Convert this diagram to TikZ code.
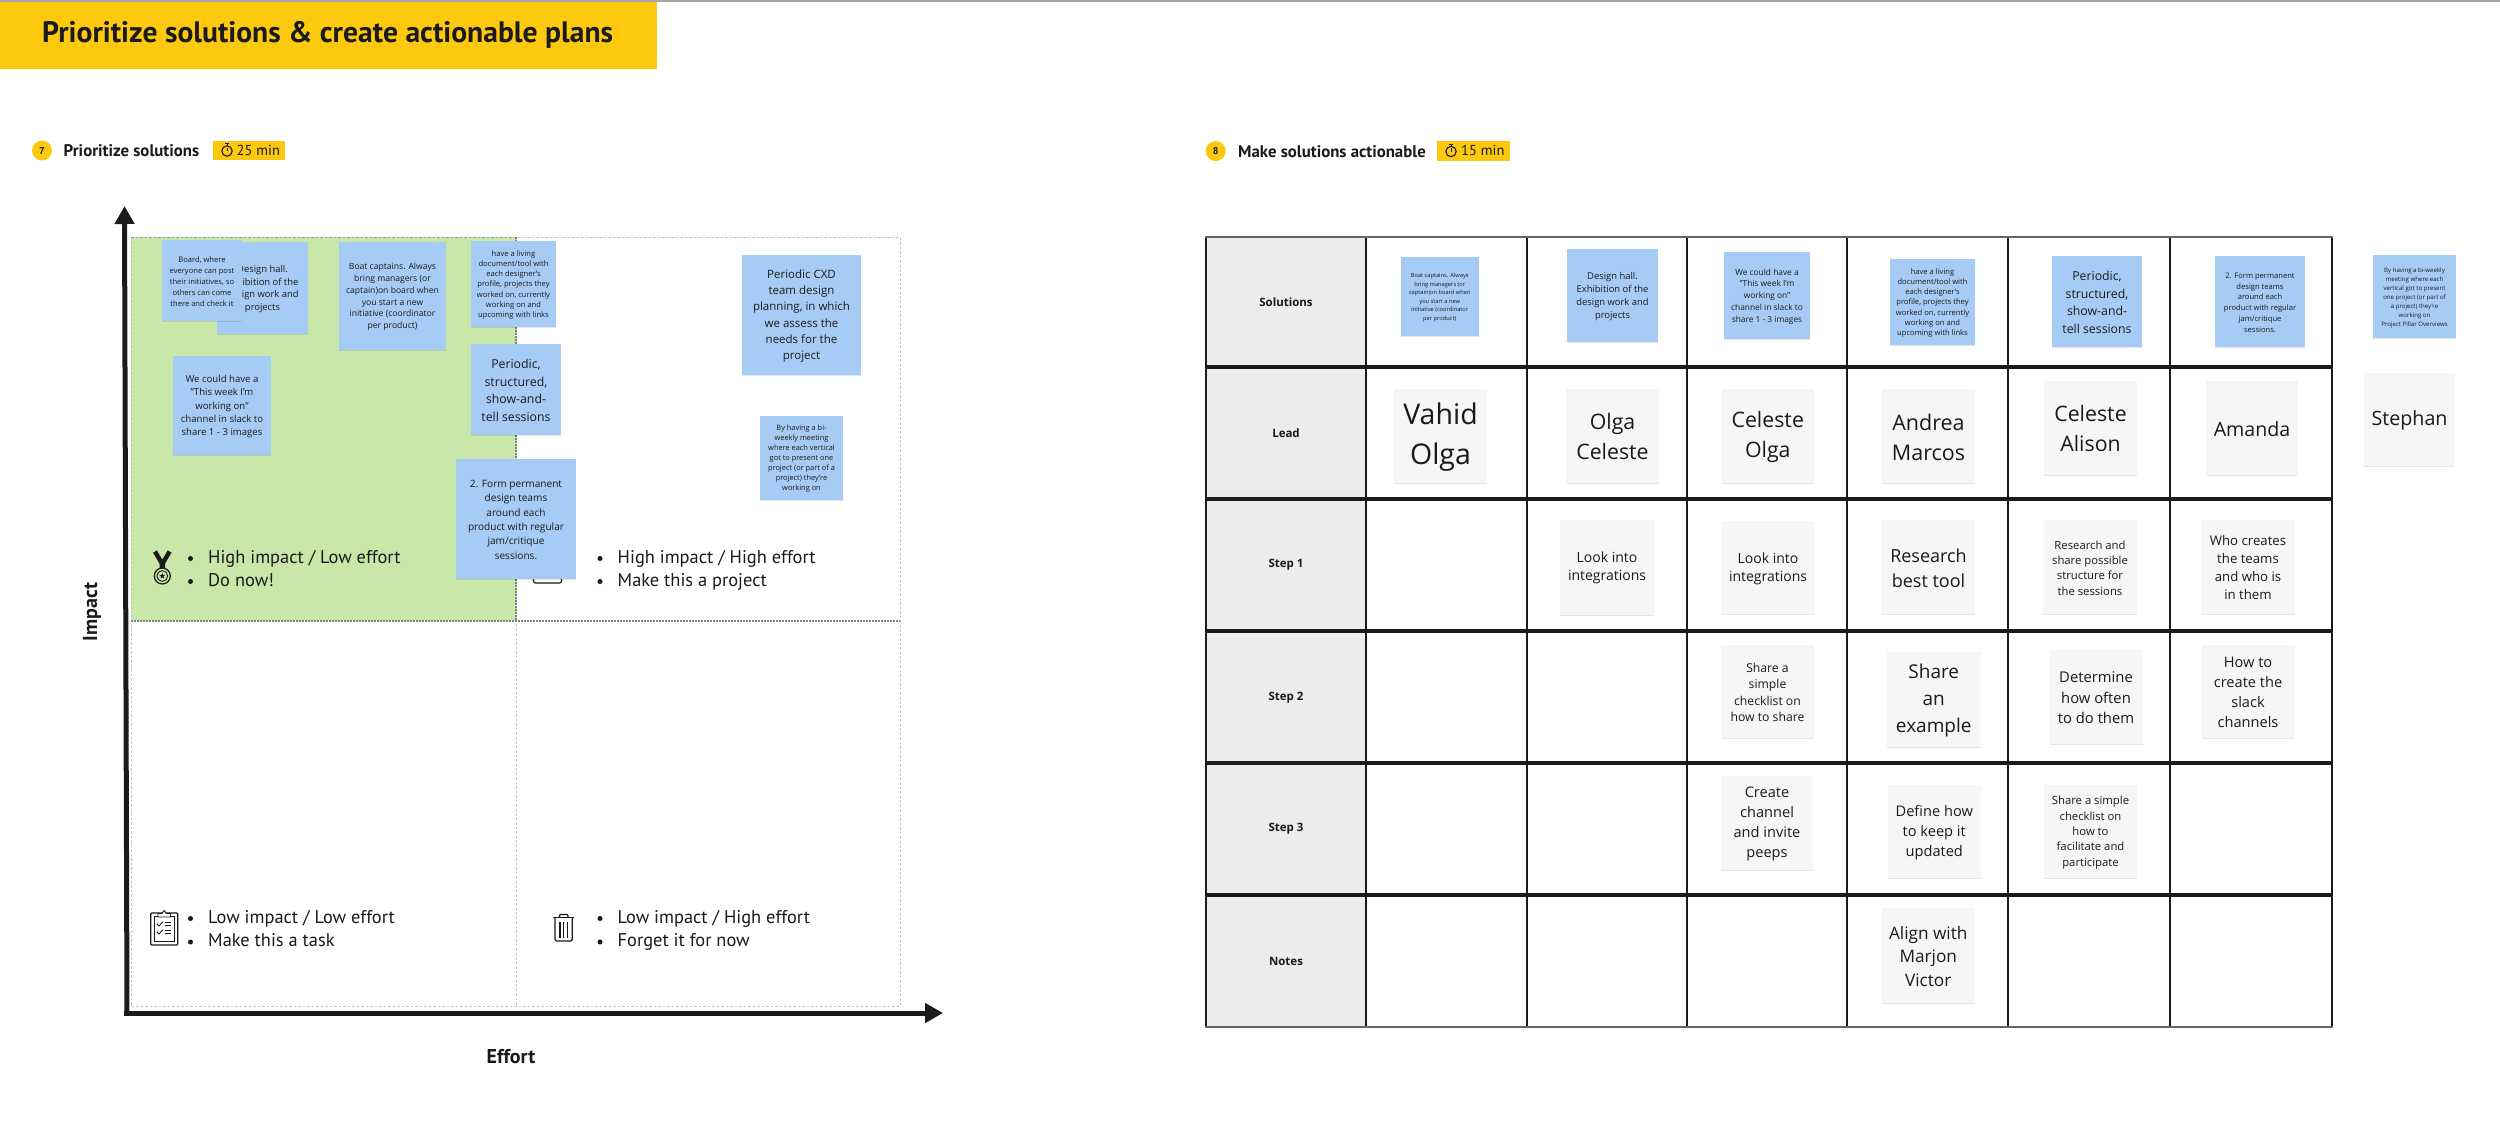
\documentclass[tikz,border=0pt]{standalone}
\usepackage{fontspec}
\setmainfont{Open Sans}
\newfontfamily\ptsans{PT Sans}
\usetikzlibrary{arrows.meta,shadows,shapes.geometric}
\definecolor{bannerY}{HTML}{FDC90F}
\definecolor{stickyB}{HTML}{A6CCF5}
\definecolor{stickyG}{HTML}{F5F6F8}
\definecolor{quadG}{HTML}{C9E7A8}
\definecolor{headG}{HTML}{ECECEC}
\definecolor{inkD}{HTML}{1A1A1A}
\newcommand{\fsz}[2]{\fontsize{#1}{#2}\selectfont}
\tikzset{
  x=1pt,y=-1pt,
  noteshadow/.style={drop shadow={shadow xshift=0pt,shadow yshift=-1.2pt,opacity=.10,fill=black}},
  bluenote/.style={fill=stickyB,noteshadow,inner sep=0pt},
  graynote/.style={fill=stickyG,noteshadow,inner sep=0pt},
  notetext/.style={text=inkD,align=center,inner sep=0pt},
  axisline/.style={draw=inkD,line width=5pt,-{Triangle[length=18pt,width=19pt]}},
  griddash/.style={draw=black!24,line width=1pt,dash pattern=on 2.5pt off 2pt},
  griddark/.style={draw=black!50,line width=1.3pt,dash pattern=on 2pt off 1pt},
  tablethin/.style={draw=inkD,line width=2pt},
  tablethick/.style={draw=inkD,line width=3.5pt},
  qtext/.style={anchor=west,inner sep=0pt,text=inkD,font=\ptsans\fsz{18.4}{22},text height=13pt,text depth=4pt},
  qdot/.style={circle,fill=inkD,inner sep=0pt,minimum size=5pt},
  heading/.style={anchor=west,inner sep=0pt,text=inkD,font=\ptsans\bfseries\fsz{16.8}{20}},
  badge/.style={fill=bannerY,inner sep=0pt},
  badgetext/.style={anchor=west,inner sep=0pt,text=inkD,font=\ptsans\fsz{14.5}{16}},
  stepnum/.style={circle,fill=bannerY,inner sep=0pt,minimum size=20pt,text=inkD,font=\ptsans\bfseries\fsz{10}{11}},
  rowlabel/.style={text=inkD,inner sep=0pt,font=\bfseries\fsz{11.5}{14}},
  axislabel/.style={text=inkD,inner sep=0pt,font=\ptsans\bfseries\fsz{20}{22}},
  iconline/.style={draw=inkD,line width=1.2pt},
}
% style, name, x1, y1, x2, y2, font size, leading, text
\newcommand{\sticky}[9]{%
  \pgfmathsetmacro\stcx{(#3+#5)/2}\pgfmathsetmacro\stcy{(#4+#6)/2}%
  \pgfmathsetmacro\stw{#5-#3}\pgfmathsetmacro\sth{#6-#4}\pgfmathsetmacro\sty{\stcy+1}%
  \node[#1,minimum width=\stw pt,minimum height=\sth pt] (#2) at (\stcx,\stcy) {};
  \node[notetext,font=\fsz{#7}{#8}] (#2t) at (\stcx,\sty) {#9};}
\newcommand{\qline}[4]{\node[qdot] (#1d) at (#2-17.5,#3) {};\node[qtext] (#1) at (#2,#3) {#4};}
\newcommand{\stopwatch}[2]{%
  \draw[draw=inkD,line width=1.1pt] (#1,#2) circle[radius=5.2pt];
  \draw[draw=inkD,line width=1.2pt] (#1-2,#2-7.4) -- (#1+2,#2-7.4);
  \draw[draw=inkD,line width=1pt] (#1,#2-7) -- (#1,#2-5) (#1,#2) -- (#1,#2-3.5);}
\begin{document}
\begin{tikzpicture}
\useasboundingbox (0,0) rectangle (2500,1133);
\fill[white] (0,0) rectangle (2500,1133);
\fill[black!35] (0,0) rectangle (2500,1.5);
% banner
\node[fill=bannerY,minimum width=657pt,minimum height=67pt,inner sep=0pt] (banner) at (328.5,35) {};
\node[anchor=west,inner sep=0pt,text=inkD,font=\ptsans\bfseries\fsz{29.6}{34}] (title) at (42,35) {Prioritize solutions \& create actionable plans};
% section headings
\node[stepnum] (n7) at (42,150.5) {7};
\node[heading] (h7) at (63.5,151) {Prioritize solutions};
\node[badge,minimum width=72.5pt,minimum height=19.5pt] (b7) at (249,150.7) {};
\stopwatch{227}{151}
\node[badgetext] (b7t) at (236.5,150.5) {25 min};
\node[stepnum] (n8) at (1215.7,151) {8};
\node[heading] (h8) at (1238,152) {Make solutions actionable};
\node[badge,minimum width=73pt,minimum height=19.7pt] (b8) at (1473,150.8) {};
\stopwatch{1451}{151.5}
\node[badgetext] (b8t) at (1461,150.5) {15 min};
% matrix
\fill[quadG] (131,237) rectangle (516,621);
\draw[griddash] (131,237) rectangle (900,1006);
\draw[griddash] (516,237) -- (516,1006);
\draw[griddark] (131,621) -- (900,621);
\draw[griddash,draw=black!40] (131,237) -- (516,237);
\draw[griddark] (516,237) -- (516,621);
\coordinate (origin) at (127,1013);
\coordinate (ytip) at (124.5,206);
\coordinate (xstart) at (124,1013);
\coordinate (xtip) at (943,1013);
\draw[axisline] (origin) -- (ytip);
\draw[axisline] (xstart) -- (xtip);
\node[axislabel,rotate=90] (impact) at (92,612) {Impact};
\node[axislabel] (effort) at (511,1057) {Effort};
% quadrant text
\qline{qa}{208}{558.5}{High impact / Low effort}
\qline{qb}{208}{581.5}{Do now!}
\qline{qc}{617.5}{558.5}{High impact / High effort}
\qline{qd}{617.5}{581.5}{Make this a project}
\qline{qe}{208}{918.5}{Low impact / Low effort}
\qline{qf}{208}{942}{Make this a task}
\qline{qg}{617.5}{918.5}{Low impact / High effort}
\qline{qh}{617.5}{942}{Forget it for now}
% medal
\draw[draw=inkD,line width=4.4pt] (155,551.5) -- (162.3,564) -- (169.6,551.5);
\fill[inkD] (159.5,562) -- (165.1,562) -- (165,568.5) -- (159.6,568.5) -- cycle;
\draw[iconline] (162.3,576) circle[radius=8pt];
\draw[iconline,line width=.9pt] (162.3,576) circle[radius=5.4pt];
\node[star,star points=5,star point ratio=2.3,fill=inkD,inner sep=0pt,minimum size=6pt] (medalstar) at (162.3,576) {};
% clipboard
\draw[iconline,rounded corners=1pt] (150.7,913) rectangle (177.7,945);
\draw[iconline,line width=.9pt] (154.7,916) rectangle (174.3,941.5);
\draw[iconline,fill=white,line width=.9pt] (158,917) -- (158,913.5) -- (162,913.5) -- (164.2,910.5) -- (166.4,913.5) -- (170.5,913.5) -- (170.5,917) -- cycle;
\draw[iconline,line width=.9pt] (157,924) -- (159,926) -- (162.8,921.8) (157,932) -- (159,934) -- (162.8,929.8);
\draw[iconline,line width=.9pt] (164.7,922.7) -- (171,922.7) (164.7,925.6) -- (171,925.6) (164.7,930.7) -- (171,930.7) (164.7,933.6) -- (171,933.6);
% trash
\draw[iconline,rounded corners=1.5pt] (555,918) -- (555,941) -- (572.3,941) -- (572.3,918);
\draw[iconline,line width=1.5pt] (552.5,917.5) -- (574.3,917.5);
\draw[iconline,rounded corners=1pt] (559.5,917) -- (559.5,914.5) -- (568,914.5) -- (568,917);
\draw[iconline,line width=1.1pt] (560,922) -- (560,938) (563.8,922) -- (563.8,938) (567.6,922) -- (567.6,938);
% partly hidden project icon
\draw[iconline,rounded corners=2pt] (533.5,560) rectangle (561.5,583);
% matrix stickies
\sticky{bluenote}{m2}{217}{242}{308}{334}{9.4}{12.8}{Design hall.\\Exhibition of the\\design work and\\projects}
\sticky{bluenote}{m1}{162}{240}{242}{321}{7.6}{10.9}{Board, where\\everyone can post\\their initiatives, so\\others can come\\there and check it}
\sticky{bluenote}{m3}{339}{242}{446}{350}{8.6}{11.8}{Boat captains. Always\\bring managers (or\\captain)on board when\\you start a new\\initiative (coordinator\\per product)}
\sticky{bluenote}{m4}{471}{241}{556}{327}{7.6}{10.3}{have a living\\document/tool with\\each designer's\\profile, projects they\\worked on, currently\\working on and\\upcoming with links}
\sticky{bluenote}{m5}{471}{344}{561}{435}{12.3}{17.7}{Periodic,\\structured,\\show-and-\\tell sessions}
\sticky{bluenote}{m6}{173}{356}{271}{455}{9.6}{13.3}{We could have a\\"This week I'm\\working on"\\channel in slack to\\share 1 - 3 images}
\sticky{bluenote}{m7}{456}{458.5}{576}{579}{10.1}{14.4}{2. Form permanent\\design teams\\around each\\product with regular\\jam/critique\\sessions.}
\sticky{bluenote}{m8}{742}{255}{861}{375}{11.5}{16.2}{Periodic CXD\\team design\\planning, in which\\we assess the\\needs for the\\project}
\sticky{bluenote}{m9}{760}{416}{843}{500}{7.4}{10}{By having a bi-\\weekly meeting\\where each vertical\\got to present one\\project (or part of a\\project) they're\\working on}
% table
\fill[headG] (1206,237) rectangle (1366,1027);
\foreach \ry in {367,499,631,763,895}{\draw[tablethick] (1206,\ry) -- (2331.5,\ry);}
\foreach \cx in {1206,1366,1527,1687,1847,2008,2170,2331.5}{\draw[tablethin] (\cx,237) -- (\cx,1027);}
\draw[tablethin,draw=black!60] (1205,237) -- (2332.5,237);
\draw[tablethin,draw=black!60] (1205,1027) -- (2332.5,1027);
\node[rowlabel] (r1) at (1286,302) {Solutions};
\node[rowlabel] (r2) at (1286,433) {Lead};
\node[rowlabel] (r3) at (1286,565) {Step 1};
\node[rowlabel] (r4) at (1286,698) {Step 2};
\node[rowlabel] (r5) at (1286,829) {Step 3};
\node[rowlabel] (r6) at (1286,961) {Notes};
% solutions row
\sticky{bluenote}{s1}{1400.5}{257}{1479}{336}{5.7}{8.5}{Boat captains. Always\\bring managers (or\\captain)on board when\\you start a new\\initiative (coordinator\\per product)}
\sticky{bluenote}{s2}{1567}{249}{1658}{342}{9.4}{12.8}{Design hall.\\Exhibition of the\\design work and\\projects}
\sticky{bluenote}{s3}{1724}{252}{1810}{339}{8.35}{11.8}{We could have a\\"This week I'm\\working on"\\channel in slack to\\share 1 - 3 images}
\sticky{bluenote}{s4}{1890}{259}{1975}{345}{7.6}{10.3}{have a living\\document/tool with\\each designer's\\profile, projects they\\worked on, currently\\working on and\\upcoming with links}
\sticky{bluenote}{s5}{2052}{256}{2142}{347}{12.3}{17.7}{Periodic,\\structured,\\show-and-\\tell sessions}
\sticky{bluenote}{s6}{2215}{256}{2305}{347}{7.6}{10.8}{2. Form permanent\\design teams\\around each\\product with regular\\jam/critique\\sessions.}
\sticky{bluenote}{s7}{2373}{255}{2456}{338}{6.1}{9}{By having a bi-weekly\\meeting where each\\vertical got to present\\one project (or part of\\a project) they're\\working on\\Project Pillar Overviews}
% lead row
\sticky{graynote}{l1}{1394}{389}{1487}{483}{28.5}{39.3}{Vahid\\Olga}
\sticky{graynote}{l2}{1566}{389}{1659}{483}{21.3}{30}{Olga\\Celeste}
\sticky{graynote}{l3}{1721.5}{389}{1814}{483}{21.3}{30}{Celeste\\Olga}
\sticky{graynote}{l4}{1882}{389}{1975}{483}{21.5}{30}{Andrea\\Marcos}
\sticky{graynote}{l5}{2044}{381}{2137}{475}{21.3}{30}{Celeste\\Alison}
\sticky{graynote}{l6}{2206}{381}{2298}{475}{19.6}{30}{Amanda}
\sticky{graynote}{l7}{2364}{373}{2455}{466}{19.7}{30}{Stephan}
% step 1
\sticky{graynote}{a2}{1560}{520}{1654}{614.5}{14}{18}{Look into\\integrations}
\sticky{graynote}{a3}{1722}{521}{1814}{614}{14}{18}{Look into\\integrations}
\sticky{graynote}{a4}{1882}{520}{1975}{614}{18}{24.8}{Research\\best tool}
\sticky{graynote}{a5}{2043}{520}{2137}{614}{11.3}{15.3}{Research and\\share possible\\structure for\\the sessions}
\sticky{graynote}{a6}{2201.5}{520}{2294.5}{614}{13.2}{18}{Who creates\\the teams\\and who is\\in them}
% step 2
\sticky{graynote}{b3}{1721}{645}{1814}{738}{12.2}{16.6}{Share a\\simple\\checklist on\\how to share}
\sticky{graynote}{b4}{1887}{652}{1980.5}{746.5}{19}{26.9}{Share\\an\\example}
\sticky{graynote}{b5}{2049.5}{649.5}{2142.5}{744}{14.8}{20.7}{Determine\\how often\\to do them}
\sticky{graynote}{b6}{2201.5}{645}{2294.5}{738}{14.6}{19.8}{How to\\create the\\slack\\channels}
% step 3
\sticky{graynote}{c3}{1721}{776}{1813}{870}{14.6}{19.8}{Create\\channel\\and invite\\peeps}
\sticky{graynote}{c4}{1888}{785}{1980.5}{878}{14.6}{19.8}{Define how\\to keep it\\updated}
\sticky{graynote}{c5}{2044}{785}{2137}{878}{11.3}{15.3}{Share a simple\\checklist on\\how to\\facilitate and\\participate}
% notes
\sticky{graynote}{d4}{1881.5}{908}{1975}{1003}{17.2}{23.4}{Align with\\Marjon\\Victor}
\end{tikzpicture}
\end{document}
